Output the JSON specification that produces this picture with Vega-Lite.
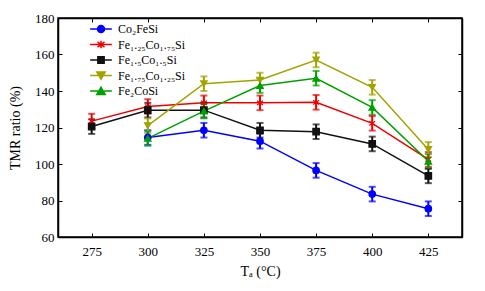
{
  "$schema": "https://vega.github.io/schema/vega-lite/v6.json",
  "width": 404,
  "height": 219,
  "autosize": {"type": "none"},
  "padding": {"left": 58, "top": 18, "right": 23, "bottom": 54},
  "background": "white",
  "config": {
    "font": "Liberation Serif",
    "view": {"stroke": "black", "strokeWidth": 1.5},
    "axis": {
      "domainColor": "black", "domainWidth": 1.5, "tickColor": "black", "tickWidth": 1,
      "tickSize": -4, "grid": false, "labelColor": "black", "titleColor": "black",
      "labelFont": "Liberation Serif", "titleFont": "Liberation Serif",
      "labelFontSize": 13, "titleFontSize": 14, "titleFontWeight": "normal"
    }
  },
  "data": {"values": [
    {"series": "Co₂FeSi", "Ta": 300, "tmr": 114.5, "err": 4},
    {"series": "Co₂FeSi", "Ta": 325, "tmr": 118.5, "err": 4},
    {"series": "Co₂FeSi", "Ta": 350, "tmr": 112.5, "err": 4},
    {"series": "Co₂FeSi", "Ta": 375, "tmr": 96.5, "err": 4},
    {"series": "Co₂FeSi", "Ta": 400, "tmr": 83.5, "err": 4},
    {"series": "Co₂FeSi", "Ta": 425, "tmr": 75.5, "err": 4},
    {"series": "Fe₁.₂₅Co₁.₇₅Si", "Ta": 275, "tmr": 123.5, "err": 4},
    {"series": "Fe₁.₂₅Co₁.₇₅Si", "Ta": 300, "tmr": 131.5, "err": 4},
    {"series": "Fe₁.₂₅Co₁.₇₅Si", "Ta": 325, "tmr": 133.5, "err": 4},
    {"series": "Fe₁.₂₅Co₁.₇₅Si", "Ta": 350, "tmr": 133.5, "err": 4},
    {"series": "Fe₁.₂₅Co₁.₇₅Si", "Ta": 375, "tmr": 133.8, "err": 4},
    {"series": "Fe₁.₂₅Co₁.₇₅Si", "Ta": 400, "tmr": 122.3, "err": 4},
    {"series": "Fe₁.₂₅Co₁.₇₅Si", "Ta": 425, "tmr": 102.5, "err": 4},
    {"series": "Fe₁.₅Co₁.₅Si", "Ta": 275, "tmr": 120.5, "err": 4},
    {"series": "Fe₁.₅Co₁.₅Si", "Ta": 300, "tmr": 129.5, "err": 4},
    {"series": "Fe₁.₅Co₁.₅Si", "Ta": 325, "tmr": 129.5, "err": 4},
    {"series": "Fe₁.₅Co₁.₅Si", "Ta": 350, "tmr": 118.5, "err": 4},
    {"series": "Fe₁.₅Co₁.₅Si", "Ta": 375, "tmr": 117.7, "err": 4},
    {"series": "Fe₁.₅Co₁.₅Si", "Ta": 400, "tmr": 111, "err": 4},
    {"series": "Fe₁.₅Co₁.₅Si", "Ta": 425, "tmr": 93.5, "err": 4},
    {"series": "Fe₁.₇₅Co₁.₂₅Si", "Ta": 300, "tmr": 121, "err": 4},
    {"series": "Fe₁.₇₅Co₁.₂₅Si", "Ta": 325, "tmr": 144, "err": 4},
    {"series": "Fe₁.₇₅Co₁.₂₅Si", "Ta": 350, "tmr": 146, "err": 4},
    {"series": "Fe₁.₇₅Co₁.₂₅Si", "Ta": 375, "tmr": 157, "err": 4},
    {"series": "Fe₁.₇₅Co₁.₂₅Si", "Ta": 400, "tmr": 142, "err": 4},
    {"series": "Fe₁.₇₅Co₁.₂₅Si", "Ta": 425, "tmr": 108, "err": 4},
    {"series": "Fe₂CoSi", "Ta": 300, "tmr": 114, "err": 4},
    {"series": "Fe₂CoSi", "Ta": 325, "tmr": 129, "err": 4},
    {"series": "Fe₂CoSi", "Ta": 350, "tmr": 143, "err": 4},
    {"series": "Fe₂CoSi", "Ta": 375, "tmr": 147, "err": 4},
    {"series": "Fe₂CoSi", "Ta": 400, "tmr": 131, "err": 4},
    {"series": "Fe₂CoSi", "Ta": 425, "tmr": 101.5, "err": 4}
  ]},
  "resolve": {"axis": {"x": "independent", "y": "independent"}},
  "layer": [
    {
      "mark": {"type": "line", "strokeWidth": 1.5},
      "encoding": {
        "x": {"field": "Ta", "type": "quantitative",
              "scale": {"domain": [260, 440], "nice": false, "zero": false},
              "axis": {"orient": "bottom", "values": [275, 300, 325, 350, 375, 400, 425], "labelPadding": 12, "title": "Tₐ (°C)", "titlePadding": 6, "titleFontSize": 14}},
        "y": {"field": "tmr", "type": "quantitative",
              "scale": {"domain": [60, 180], "nice": false, "zero": false},
              "axis": {"orient": "left", "values": [60, 80, 100, 120, 140, 160, 180], "labelPadding": 8, "title": "TMR ratio (%)", "titlePadding": 12}},
        "color": {"field": "series", "type": "nominal",
                  "scale": {"domain": ["Co₂FeSi", "Fe₁.₂₅Co₁.₇₅Si", "Fe₁.₅Co₁.₅Si", "Fe₁.₇₅Co₁.₂₅Si", "Fe₂CoSi"],
                            "range": ["#0000ff", "#ee0000", "#111111", "#a3a300", "#00a000"]},
                  "legend": {
                    "title": null, "orient": "none", "legendX": 37, "legendY": 5, "padding": 0,
                    "symbolType": "circle", "symbolSize": 49, "labelOffset": 11, "rowPadding": 1.5,
                    "labelFont": "Liberation Serif", "labelFontSize": 12, "labelColor": "black",
                    "encode": {"symbols": {"update": {
                      "shape": {"signal": "datum.index == 0 ? 'M-3.1,0L3.1,0M-1,0A1,1,0,1,0,1,0A1,1,0,1,0,-1,0Z' : datum.index == 1 ? 'M-3.1,0L3.1,0M0,-1.1L0,1.1M-1,-0.75L1,0.75M-1,0.75L1,-0.75' : datum.index == 2 ? 'M-3.1,0L3.1,0M-0.9,-0.9H0.9V0.9H-0.9Z' : datum.index == 3 ? 'M-3.1,0L3.1,0M-1.2,-1L1.2,-1L0,1.1Z' : 'M-3.1,0L3.1,0M-1.2,1L1.2,1L0,-1.1Z'"},
                      "stroke": {"signal": "scale('color', datum.value)"},
                      "fill": {"signal": "scale('color', datum.value)"},
                      "strokeWidth": {"value": 1.5},
                      "opacity": {"value": 1}
                    }}}
                  }}
      }
    },
    {
      "mark": {"type": "errorbar", "ticks": {"size": 7}, "thickness": 2},
      "encoding": {
        "x": {"field": "Ta", "type": "quantitative", "axis": null},
        "y": {"field": "tmr", "type": "quantitative", "axis": null},
        "yError": {"field": "err"},
        "color": {"field": "series", "type": "nominal", "legend": null}
      }
    },
    {
      "mark": {"type": "point", "filled": true, "opacity": 1, "strokeWidth": 1.2},
      "encoding": {
        "x": {"field": "Ta", "type": "quantitative",
              "axis": {"orient": "top", "values": [275, 300, 325, 350, 375, 400, 425], "labels": false, "title": null}},
        "y": {"field": "tmr", "type": "quantitative",
              "axis": {"orient": "right", "values": [60, 80, 100, 120, 140, 160, 180], "labels": false, "title": null}},
        "color": {"field": "series", "type": "nominal", "legend": null},
        "stroke": {"field": "series", "type": "nominal", "legend": null,
                   "scale": {"range": ["#0000ff", "#ee0000", "#111111", "#a3a300", "#00a000"]}},
        "shape": {"field": "series", "type": "nominal", "legend": null,
                  "scale": {"range": ["circle", "M0,-1L0,1M-0.9,-0.65L0.9,0.65M-0.9,0.65L0.9,-0.65", "square", "triangle-down", "triangle-up"]}},
        "size": {"value": 42}
      }
    }
  ]
}
